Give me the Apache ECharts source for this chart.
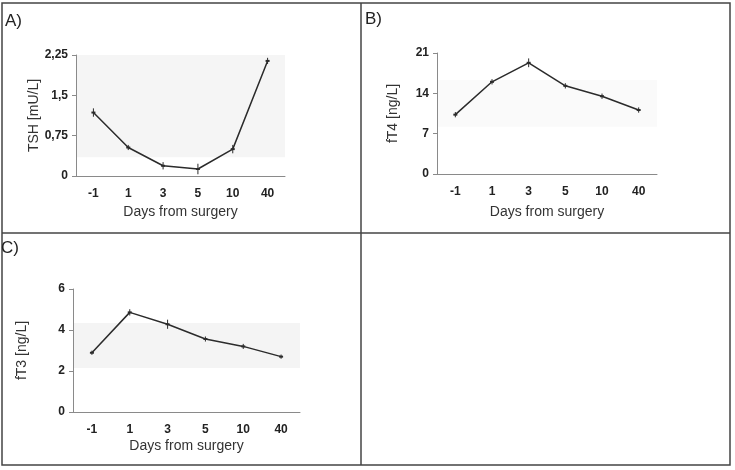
<!DOCTYPE html>
<html>
<head>
<meta charset="utf-8">
<script src="https://cdn.jsdelivr.net/npm/echarts@6/dist/echarts.min.js"></script>
<style>
  html, body { margin: 0; padding: 0; background: #fff; }
  #chart { width: 735px; height: 470px; }
</style>
</head>
<body>
<div id="chart"></div>
<script>
// data
const days = ['-1', '1', '3', '5', '10', '40']

const tsh = [1.18, 0.53, 0.19, 0.13, 0.50, 2.14]
const tshErr = [0.05, 0.02, 0.04, 0.07, 0.05, 0.03]
const tshTicks = [0, 0.75, 1.5, 2.25]
const tshBand = [0.35, 2.25]

const ft4 = [10.3, 16.0, 19.3, 15.3, 13.5, 11.1]
const ft4Err = [0.2, 0.2, 0.5, 0.2, 0.2, 0.2]
const ft4Ticks = [0, 7, 14, 21]
const ft4Band = [8.2, 16.3]

const ft3 = [2.89, 4.86, 4.28, 3.56, 3.20, 2.70]
const ft3Err = [0.03, 0.08, 0.15, 0.05, 0.05, 0.03]
const ft3Ticks = [0, 2, 4, 6]
const ft3Band = [2.15, 4.34]

const font = '"Liberation Sans", Arial, sans-serif'
const lineColor = '#2b2b2b'
const axisColor = '#8a8a8a'

const panels = [
  { name: 'TSH [mU/L]', data: tsh, err: tshErr, ticks: tshTicks, band: tshBand, bandColor: '#f5f5f5',
    grid: { left: 76, top: 55, width: 209, height: 121 }, yGap: 33, xGap: 29 },
  { name: 'fT4 [ng/L]', data: ft4, err: ft4Err, ticks: ft4Ticks, band: ft4Band, bandColor: '#fafafa',
    grid: { left: 437, top: 53, width: 220, height: 121 }, yGap: 37, xGap: 31 },
  { name: 'fT3 [ng/L]', data: ft3, err: ft3Err, ticks: ft3Ticks, band: ft3Band, bandColor: '#f4f4f4',
    grid: { left: 73, top: 289, width: 227, height: 123 }, yGap: 44, xGap: 27 }
]

const chart = echarts.init(document.getElementById('chart'))

const grids = panels.map(p => p.grid)

const xAxes = panels.map((p, i) => ({
  type: 'category',
  gridIndex: i,
  data: days,
  boundaryGap: true,
  z: 5,
  name: 'Days from surgery',
  nameLocation: 'middle',
  nameGap: p.xGap,
  nameTextStyle: { fontFamily: font, fontSize: 14, color: '#333' },
  axisLine: { lineStyle: { color: axisColor, width: 1 } },
  axisTick: { inside: true, length: 3, lineStyle: { color: axisColor } },
  axisLabel: { fontFamily: font, fontSize: 12, fontWeight: 'bold', color: '#222', margin: 12 }
}))

const yAxes = panels.map((p, i) => {
  const step = p.ticks[1] - p.ticks[0]
  return {
    type: 'value',
    gridIndex: i,
    min: p.ticks[0],
    max: p.ticks[p.ticks.length - 1],
    interval: step,
    z: 5,
    name: p.name,
    nameLocation: 'middle',
    nameGap: p.yGap,
    nameRotate: 90,
    nameTextStyle: { fontFamily: font, fontSize: 14, color: '#333' },
    axisLine: { show: true, lineStyle: { color: axisColor, width: 1 } },
    axisTick: { show: true, length: 4, lineStyle: { color: axisColor } },
    splitLine: { show: false },
    axisLabel: {
      fontFamily: font, fontSize: 12, fontWeight: 'bold', color: '#222', margin: 8,
      formatter: v => String(+v.toFixed(2)).replace('.', ',')
    }
  }
})

const series = []
panels.forEach((p, i) => {
  series.push({
    type: 'line',
    xAxisIndex: i,
    yAxisIndex: i,
    data: p.data,
    symbol: 'rect',
    symbolSize: [4, 2],
    itemStyle: { color: lineColor },
    lineStyle: { color: lineColor, width: 1.5 },
    markArea: {
      silent: true,
      itemStyle: { color: p.bandColor },
      data: [[{ yAxis: p.band[0] }, { yAxis: p.band[1] }]]
    },
    z: 3
  })
  series.push({
    type: 'custom',
    xAxisIndex: i,
    yAxisIndex: i,
    data: p.data.map((v, k) => [k, v, p.err[k]]),
    renderItem: (params, api) => {
      const x = api.value(0)
      const v = api.value(1)
      const e = api.value(2)
      const lo = api.coord([x, v - e])
      const hi = api.coord([x, v + e])
      return {
        type: 'line',
        shape: { x1: lo[0], y1: lo[1] + 1.5, x2: hi[0], y2: hi[1] - 1.5 },
        style: { stroke: lineColor, lineWidth: 1 }
      }
    },
    z: 4
  })
})

const frame = { stroke: '#444', lineWidth: 1.5 }

chart.setOption({
  animation: false,
  backgroundColor: '#fff',
  grid: grids,
  xAxis: xAxes,
  yAxis: yAxes,
  series: series,
  graphic: [
    { type: 'rect', shape: { x: 2, y: 3, width: 728, height: 462 }, style: { fill: 'none', ...frame } },
    { type: 'line', shape: { x1: 361, y1: 3, x2: 361, y2: 465 }, style: frame },
    { type: 'line', shape: { x1: 2, y1: 233, x2: 730, y2: 233 }, style: frame },
    { type: 'text', left: 5, top: 13, style: { text: 'A)', font: '17px ' + font, fill: '#222' } },
    { type: 'text', left: 365, top: 11, style: { text: 'B)', font: '17px ' + font, fill: '#222' } },
    { type: 'text', left: 1, top: 240, style: { text: 'C)', font: '17px ' + font, fill: '#222' } }
  ]
})
</script>
</body>
</html>
